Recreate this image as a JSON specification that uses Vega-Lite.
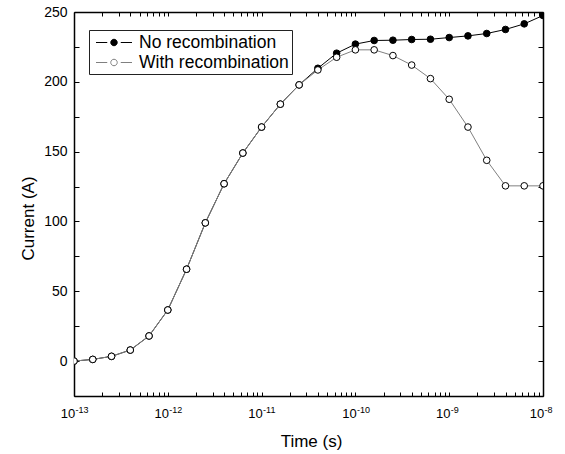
{
  "$schema": "https://vega.github.io/schema/vega-lite/v6.json",
  "width": 469,
  "height": 384,
  "autosize": "none",
  "padding": {"left": 74, "top": 12, "right": 22, "bottom": 58},
  "background": "white",
  "config": {
    "view": {"stroke": null},
    "axis": {
      "labelFont": "Liberation Sans",
      "titleFont": "Liberation Sans",
      "labelColor": "black",
      "titleColor": "black",
      "domainColor": "black",
      "tickColor": "black",
      "domainWidth": 1.5,
      "tickWidth": 1,
      "grid": false,
      "titleFontWeight": "normal",
      "labelFlush": false,
      "labelOverlap": false
    },
    "legend": {
      "labelFont": "Liberation Sans",
      "labelFontSize": 17.5,
      "labelColor": "black",
      "labelLimit": 300
    }
  },
  "data": {
    "values": [
      {"t": 1e-13, "I": 0, "series": "No recombination"},
      {"t": 1.585e-13, "I": 1.2, "series": "No recombination"},
      {"t": 2.512e-13, "I": 3.4, "series": "No recombination"},
      {"t": 3.981e-13, "I": 7.9, "series": "No recombination"},
      {"t": 6.31e-13, "I": 18, "series": "No recombination"},
      {"t": 1e-12, "I": 36.6, "series": "No recombination"},
      {"t": 1.585e-12, "I": 65.8, "series": "No recombination"},
      {"t": 2.512e-12, "I": 99, "series": "No recombination"},
      {"t": 3.981e-12, "I": 127, "series": "No recombination"},
      {"t": 6.31e-12, "I": 149, "series": "No recombination"},
      {"t": 1e-11, "I": 167.6, "series": "No recombination"},
      {"t": 1.585e-11, "I": 184, "series": "No recombination"},
      {"t": 2.512e-11, "I": 197.8, "series": "No recombination"},
      {"t": 3.981e-11, "I": 209.7, "series": "No recombination"},
      {"t": 6.31e-11, "I": 220.5, "series": "No recombination"},
      {"t": 1e-10, "I": 227, "series": "No recombination"},
      {"t": 1.585e-10, "I": 229.6, "series": "No recombination"},
      {"t": 2.512e-10, "I": 229.8, "series": "No recombination"},
      {"t": 3.981e-10, "I": 230.3, "series": "No recombination"},
      {"t": 6.31e-10, "I": 230.5, "series": "No recombination"},
      {"t": 1e-9, "I": 231.7, "series": "No recombination"},
      {"t": 1.585e-9, "I": 232.9, "series": "No recombination"},
      {"t": 2.512e-9, "I": 234.6, "series": "No recombination"},
      {"t": 3.981e-9, "I": 237.5, "series": "No recombination"},
      {"t": 6.31e-9, "I": 241.5, "series": "No recombination"},
      {"t": 1e-8, "I": 247.5, "series": "No recombination"},
      {"t": 1e-13, "I": 0, "series": "With recombination"},
      {"t": 1.585e-13, "I": 1.2, "series": "With recombination"},
      {"t": 2.512e-13, "I": 3.4, "series": "With recombination"},
      {"t": 3.981e-13, "I": 7.9, "series": "With recombination"},
      {"t": 6.31e-13, "I": 18, "series": "With recombination"},
      {"t": 1e-12, "I": 36.6, "series": "With recombination"},
      {"t": 1.585e-12, "I": 65.8, "series": "With recombination"},
      {"t": 2.512e-12, "I": 99, "series": "With recombination"},
      {"t": 3.981e-12, "I": 127, "series": "With recombination"},
      {"t": 6.31e-12, "I": 149, "series": "With recombination"},
      {"t": 1e-11, "I": 167.6, "series": "With recombination"},
      {"t": 1.585e-11, "I": 184, "series": "With recombination"},
      {"t": 2.512e-11, "I": 197.8, "series": "With recombination"},
      {"t": 3.981e-11, "I": 208.5, "series": "With recombination"},
      {"t": 6.31e-11, "I": 217.6, "series": "With recombination"},
      {"t": 1e-10, "I": 222.9, "series": "With recombination"},
      {"t": 1.585e-10, "I": 222.9, "series": "With recombination"},
      {"t": 2.512e-10, "I": 218.8, "series": "With recombination"},
      {"t": 3.981e-10, "I": 212, "series": "With recombination"},
      {"t": 6.31e-10, "I": 202.3, "series": "With recombination"},
      {"t": 1e-9, "I": 187.5, "series": "With recombination"},
      {"t": 1.585e-9, "I": 167.6, "series": "With recombination"},
      {"t": 2.512e-9, "I": 143.8, "series": "With recombination"},
      {"t": 3.981e-9, "I": 125.5, "series": "With recombination"},
      {"t": 6.31e-9, "I": 125.5, "series": "With recombination"},
      {"t": 1e-8, "I": 125.5, "series": "With recombination"}
    ]
  },
  "layer": [
    {
      "encoding": {
        "x": {
          "field": "t",
          "type": "quantitative",
          "scale": {"type": "log", "domain": [1e-13, 1e-8], "nice": false},
          "axis": {
            "orient": "bottom",
            "title": "Time (s)",
            "values": [1e-13, 2e-13, 3e-13, 4e-13, 5e-13, 6e-13, 7e-13, 8e-13, 9e-13, 1e-12, 2e-12, 3e-12, 4e-12, 5e-12, 6e-12, 7e-12, 8e-12, 9e-12, 1e-11, 2e-11, 3e-11, 4e-11, 5e-11, 6e-11, 7e-11, 8e-11, 9e-11, 1e-10, 2e-10, 3e-10, 4e-10, 5e-10, 6e-10, 7e-10, 8e-10, 9e-10, 1e-9, 2e-9, 3e-9, 4e-9, 5e-9, 6e-9, 7e-9, 8e-9, 9e-9, 1e-8],
            "labelExpr": "abs(log(datum.value)/LN10 - round(log(datum.value)/LN10)) < 1e-6 ? '10' : ''",
            "labelOffset": -6.5,
            "tickSize": -4,
            "labelPadding": 15.4,
            "labelFontSize": 13,
            "titleFontSize": 17,
            "titleX": 237,
            "titleY": 50.7,
            "titleBaseline": "alphabetic",
            "encode": {"ticks": {"update": {"y2": {"signal": "abs(log(datum.value)/LN10 - round(log(datum.value)/LN10)) < 1e-6 ? -7 : -4"}}}}
          }
        },
        "y": {
          "field": "I",
          "type": "quantitative",
          "scale": {"domain": [-25, 250], "nice": false, "zero": false},
          "axis": {
            "orient": "left",
            "title": "Current (A)",
            "values": [-25, 0, 25, 50, 75, 100, 125, 150, 175, 200, 225, 250],
            "labelExpr": "datum.value % 50 == 0 ? datum.label : ''",
            "tickSize": -5,
            "labelPadding": 12,
            "labelFontSize": 14,
            "titleFontSize": 17,
            "titleAngle": -90,
            "titleX": -40.5,
            "titleY": 206,
            "titleAlign": "center",
            "titleBaseline": "alphabetic"
          }
        }
      },
      "layer": [
        {
          "mark": {"type": "line", "strokeWidth": 1, "clip": true},
          "encoding": {
            "stroke": {
              "field": "series",
              "type": "nominal",
              "scale": {"domain": ["No recombination", "With recombination"], "range": ["black", "#808080"]},
              "legend": {
                "title": null,
                "orient": "none",
                "legendX": 15,
                "legendY": 18,
                "symbolType": "M-2,0H-0.75M0.75,0H2M-0.36,0A0.36,0.36,0,1,1,0.36,0A0.36,0.36,0,1,1,-0.36,0Z",
                "symbolSize": 324,
                "symbolStrokeWidth": 1,
                "labelOffset": 15.5,
                "padding": 3,
                "rowPadding": 2,
                "strokeColor": "#222222",
                "fillColor": "white",
                "symbolOffset": 12.5,
                "encode": {"symbols": {"update": {"fill": {"scale": "fill", "field": "value"}, "stroke": {"scale": "stroke", "field": "value"}, "opacity": {"value": 1}}}}
              }
            }
          }
        },
        {
          "mark": {"type": "point", "shape": "circle", "size": 44, "stroke": "black", "strokeWidth": 1, "opacity": 1, "clip": true},
          "encoding": {
            "fill": {
              "field": "series",
              "type": "nominal",
              "scale": {"domain": ["No recombination", "With recombination"], "range": ["black", "white"]},
              "legend": {
                "title": null,
                "orient": "none",
                "legendX": 15,
                "legendY": 18,
                "symbolType": "M-2,0H-0.75M0.75,0H2M-0.36,0A0.36,0.36,0,1,1,0.36,0A0.36,0.36,0,1,1,-0.36,0Z",
                "symbolSize": 324,
                "symbolStrokeWidth": 1,
                "labelOffset": 15.5,
                "padding": 3,
                "rowPadding": 2,
                "strokeColor": "#222222",
                "fillColor": "white",
                "symbolOffset": 12.5,
                "encode": {"symbols": {"update": {"fill": {"scale": "fill", "field": "value"}, "stroke": {"scale": "stroke", "field": "value"}, "opacity": {"value": 1}}}}
              }
            },
            "order": {"field": "series", "type": "nominal"}
          }
        }
      ]
    },
    {
      "mark": {"type": "point", "opacity": 0},
      "encoding": {
        "x": {
          "field": "t",
          "type": "quantitative",
          "scale": {"type": "log", "domain": [1e-13, 1e-8], "nice": false},
          "axis": {
            "orient": "top",
            "title": null,
            "labels": false,
            "values": [1e-13, 2e-13, 3e-13, 4e-13, 5e-13, 6e-13, 7e-13, 8e-13, 9e-13, 1e-12, 2e-12, 3e-12, 4e-12, 5e-12, 6e-12, 7e-12, 8e-12, 9e-12, 1e-11, 2e-11, 3e-11, 4e-11, 5e-11, 6e-11, 7e-11, 8e-11, 9e-11, 1e-10, 2e-10, 3e-10, 4e-10, 5e-10, 6e-10, 7e-10, 8e-10, 9e-10, 1e-9, 2e-9, 3e-9, 4e-9, 5e-9, 6e-9, 7e-9, 8e-9, 9e-9, 1e-8],
            "tickSize": -4,
            "encode": {"ticks": {"update": {"y2": {"signal": "abs(log(datum.value)/LN10 - round(log(datum.value)/LN10)) < 1e-6 ? 7 : 4"}}}}
          }
        },
        "y": {
          "field": "I",
          "type": "quantitative",
          "scale": {"domain": [-25, 250], "nice": false, "zero": false},
          "axis": {
            "orient": "right",
            "title": null,
            "labels": false,
            "values": [-25, 0, 25, 50, 75, 100, 125, 150, 175, 200, 225, 250],
            "tickSize": -5
          }
        }
      }
    },
    {
      "mark": {"type": "point", "opacity": 0},
      "encoding": {
        "x": {
          "field": "t",
          "type": "quantitative",
          "scale": {"type": "log", "domain": [1e-13, 1e-8], "nice": false},
          "axis": {
            "orient": "bottom",
            "title": null,
            "ticks": false,
            "domain": false,
            "values": [1e-13, 1e-12, 1e-11, 1e-10, 1e-9, 1e-8],
            "labelExpr": "'-' + format(-round(log(datum.value)/LN10), 'd')",
            "labelAlign": "left",
            "labelBaseline": "alphabetic",
            "labelOffset": 1,
            "labelPadding": 16.3,
            "labelFontSize": 9
          }
        },
        "y": {
          "field": "I",
          "type": "quantitative",
          "scale": {"domain": [-25, 250], "nice": false, "zero": false},
          "axis": null
        }
      }
    }
  ],
  "resolve": {"axis": {"x": "independent", "y": "independent"}}
}
